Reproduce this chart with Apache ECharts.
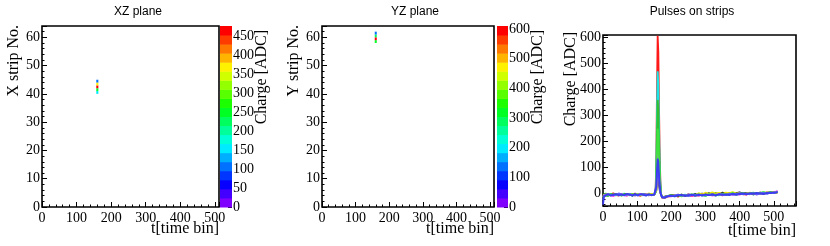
<!DOCTYPE html>
<html><head><meta charset="utf-8">
<script src="https://cdn.jsdelivr.net/npm/echarts@6/dist/echarts.min.js"></script>
<style>html,body{margin:0;padding:0;background:#fff}#c{width:830px;height:246px}</style>
</head><body><div id="c"></div><script>
// ---------- data ----------
const xzTime = [157, 157, 157, 157, 157];
const xzStrip = [40, 41, 42, 43, 44];
const xzCharge = [150, 250, 470, 360, 100];
const xzMax = 476;

const yzTime = [157, 157, 157, 157];
const yzStrip = [58, 59, 60, 61];
const yzCharge = [330, 606, 300, 135];
const yzMax = 610;

const timeBins = [0,3,8,15,22,30,38,46,54,62,70,78,86,94,102,110,118,126,134,142,
  150,154,156,158,160,162,164,166,168,170,173,176,180,186,192,
  200,210,220,230,240,250,260,270,280,290,300,310,320,330,340,350,360,370,380,390,
  400,410,420,430,440,450,460,470,480,490,500,507,511];

const pulseRed = [-8,-3,-6,-1,-5,2,-4,-7,0,-3,-6,-2,-5,1,-4,-8,-2,-5,0,-3,
  -4,14,121,394,606,545,333,152,48,1,-16,-22,-17,-12,-10,
  -9,-6,-11,-5,-8,-4,-9,-3,-7,-2,-6,-4,-1,-5,-2,-6,0,-3,1,-4,2,-1,-3,3,0,-2,4,1,5,2,6,4,9];
const pulseCyan = [-5,-9,-2,-6,0,-4,-1,-6,-3,1,-5,-2,-7,-3,0,-4,-6,-1,-4,-2,
  -3,12,94,306,470,423,259,118,38,0,-14,-19,-15,-11,-8,
  -7,-10,-4,-8,-3,-7,-5,-1,-6,-3,-8,-2,-5,0,-4,-1,-5,1,-2,-4,0,3,-1,2,-3,1,3,0,4,6,3,7,5];
const pulseGreen = [-3,-7,1,-4,-2,-6,0,-3,-5,-1,-2,-6,0,-4,-3,-1,-5,-2,-6,-1,
  -2,9,72,234,360,324,198,90,29,-2,-13,-17,-14,-10,-7,
  -5,-9,-6,-3,-9,-5,-2,-8,-4,-6,-1,-5,-3,-7,-2,0,-4,-2,2,-3,1,-1,2,-2,3,0,2,5,1,4,7,5,8];
const pulseBlack = [-6,-2,-5,-8,-3,-1,-5,-2,-6,-4,0,-3,-7,-2,-5,-3,0,-4,-2,-5,
  -3,-1,11,43,70,62,37,15,3,-5,-10,-13,-11,-9,-8,
  -6,-4,-8,-3,-7,-2,-5,-1,-4,1,-3,3,-2,2,-1,4,0,3,-1,2,5,0,3,1,-2,2,4,0,3,5,2,6,4];
const pulseYellow = [-4,-1,-6,-3,-7,-2,-5,0,-3,-6,-1,-4,-2,-5,-1,-6,-3,-4,1,-2,
  -1,0,10,45,82,95,70,35,10,-3,-11,-15,-13,-10,-8,
  -8,-5,-3,-7,-4,-8,-3,-6,2,-2,4,0,5,1,3,-1,4,2,6,0,3,-2,1,4,-1,3,0,2,5,3,6,2,5];
const pulseMagenta = [-12,-4,-7,-2,-5,-9,-3,-6,-1,-5,-8,-2,-4,-7,-3,0,-5,-2,-6,-4,
  -4,3,28,96,150,135,82,37,11,-4,-14,-20,-16,-12,-9,
  -10,-7,-4,-9,-6,-3,-8,-5,-7,-3,-6,-2,-7,-4,-1,-5,-3,0,-4,-1,-3,1,-2,0,3,-1,2,1,4,2,5,8,12];
const pulseGreen2 = [-15,-6,-3,-8,-1,-4,-6,-2,-7,-3,-5,0,-3,-6,-2,-5,-1,-6,-3,-5,
  -3,5,48,162,250,225,137,62,19,-3,-13,-18,-15,-11,-9,
  -6,-8,-5,-10,-4,-7,-3,-6,-2,-5,-8,-1,-4,-2,-6,1,-3,-1,3,-2,0,2,-1,1,4,0,3,6,2,5,3,6,8];
const pulseBlue2 = [-25,-8,-4,-1,-6,-3,-5,1,-2,-6,-3,-1,-5,-2,-7,-3,-1,-4,-2,-6,
  -2,1,18,64,100,90,55,25,7,-4,-12,-17,-14,-11,-8,
  -9,-6,-3,-7,-5,-9,-4,-6,-2,-7,-4,-5,-1,-6,-3,-2,-5,0,-3,-1,2,-2,1,-1,2,-3,1,3,-1,4,2,5,7];
const pulseBlue = [-42,-10,-5,-2,-7,-4,-1,-6,-3,-5,0,-4,-6,-2,-5,-1,-4,-7,-2,-4,
  -3,4,27,88,135,122,74,34,10,-4,-14,-19,-15,-11,-9,
  -7,-10,-6,-4,-8,-5,-3,-7,-4,-6,-2,-5,-3,-6,-1,-4,-2,-5,0,-3,-1,1,-2,2,0,3,1,-1,3,2,5,4,6];

// ---------- styles ----------
const SERIF = '"Liberation Serif","Times New Roman",serif';
const SANS = '"Liberation Sans",Arial,sans-serif';
const NBANDS = 20;
const CELL_W = 6;

function hsvColor(h) {
  const c = 1, x = 1 - Math.abs((h / 60) % 2 - 1);
  let r, g, b;
  if (h < 60) [r, g, b] = [c, x, 0];
  else if (h < 120) [r, g, b] = [x, c, 0];
  else if (h < 180) [r, g, b] = [0, c, x];
  else if (h < 240) [r, g, b] = [0, x, c];
  else [r, g, b] = [x, 0, c];
  const f = v => Math.round(v * 255);
  return 'rgb(' + f(r) + ',' + f(g) + ',' + f(b) + ')';
}
const palette = [];
for (let i = 0; i < NBANDS; i++) palette.push(hsvColor(270 * (1 - i / (NBANDS - 1))));
function colorOf(q, max) {
  let i = Math.floor(q / max * NBANDS);
  if (i < 0) i = 0; if (i > NBANDS - 1) i = NBANDS - 1;
  return palette[i];
}

const cellsXZ = xzTime.map((t, i) => [t, xzStrip[i], xzCharge[i]]);
const cellsYZ = yzTime.map((t, i) => [t, yzStrip[i], yzCharge[i]]);
function bands(max) {
  const out = [];
  for (let i = 0; i < NBANDS; i++) out.push([max * i / NBANDS, max * (i + 1) / NBANDS, i]);
  return out;
}

function cellRender(max) {
  return function (params, api) {
    const t = api.value(0), s = api.value(1), q = api.value(2);
    const p0 = api.coord([t, s + 1]);
    const p1 = api.coord([t + CELL_W, s]);
    return { type: 'rect', shape: { x: p0[0], y: p0[1], width: p1[0] - p0[0], height: p1[1] - p0[1] },
      style: { fill: colorOf(q, max) } };
  };
}
function bandRender(params, api) {
  const lo = api.value(0), hi = api.value(1), i = api.value(2);
  const p0 = api.coord([0, hi]);
  const p1 = api.coord([1, lo]);
  return { type: 'rect', shape: { x: p0[0], y: p0[1], width: p1[0] - p0[0], height: p1[1] - p0[1] + 0.5 },
    style: { fill: palette[i] } };
}

const tickStyle = { show: true, inside: true, length: 5, lineStyle: { color: '#000', width: 1 } };
const minorStyle = { show: true, splitNumber: 5, length: 2.5, lineStyle: { color: '#000', width: 1 } };
const labelStyle = { color: '#000', fontFamily: SERIF, fontSize: 14, margin: 3 };
const noLine = { show: false, onZero: false };

function timeAxis(gridIndex, max) {
  return { type: 'value', gridIndex, min: 0, max, interval: 100,
    axisLine: noLine, axisTick: tickStyle, minorTick: minorStyle, splitLine: { show: false },
    axisLabel: Object.assign({}, labelStyle, { showMaxLabel: false, margin: 4 }) };
}
function stripAxis(gridIndex) {
  return { type: 'value', gridIndex, min: 0, max: 64, interval: 10,
    axisLine: noLine, axisTick: tickStyle, minorTick: minorStyle, splitLine: { show: false },
    axisLabel: Object.assign({}, labelStyle, { showMaxLabel: false, margin: 2 }) };
}
function barAxis(gridIndex, max, interval) {
  return { type: 'value', gridIndex, position: 'right', min: 0, max, interval,
    axisLine: noLine, axisTick: { show: true, inside: true, length: 4, lineStyle: { color: '#000', width: 1 } },
    splitLine: { show: false },
    axisLabel: Object.assign({}, labelStyle, { showMaxLabel: false, margin: 1 }) };
}
function barX(gridIndex) {
  return { type: 'value', gridIndex, min: 0, max: 1, show: false, axisLine: noLine };
}

const pulses = [
  [pulseRed, '#ff1a1a'], [pulseCyan, '#1ae6e6'], [pulseGreen, '#33c033'], [pulseBlack, '#222222'],
  [pulseYellow, '#e6e600'], [pulseMagenta, '#ff40ff'], [pulseGreen2, '#40e040'],
  [pulseBlue2, '#5a5aff'], [pulseBlue, '#3c3cf0']
];

const series = [
  { type: 'custom', xAxisIndex: 0, yAxisIndex: 0, renderItem: cellRender(xzMax), data: cellsXZ, clip: true },
  { type: 'custom', xAxisIndex: 1, yAxisIndex: 1, renderItem: bandRender, data: bands(xzMax) },
  { type: 'custom', xAxisIndex: 2, yAxisIndex: 2, renderItem: cellRender(yzMax), data: cellsYZ, clip: true },
  { type: 'custom', xAxisIndex: 3, yAxisIndex: 3, renderItem: bandRender, data: bands(yzMax) }
];
pulses.forEach(([vals, color]) => {
  series.push({ type: 'line', xAxisIndex: 4, yAxisIndex: 4, showSymbol: false, symbol: 'none',
    data: timeBins.map((t, i) => [t, vals[i]]), lineStyle: { color, width: 1.8 }, itemStyle: { color },
    emphasis: { disabled: true }, clip: true });
});

function txt(text, x, y) {
  return { type: 'text', x, y, silent: true,
    style: { text, fill: '#000', font: '16px ' + SERIF, align: 'right', verticalAlign: 'middle' } };
}
function vtxt(text, x, y) {
  return { type: 'text', x, y, rotation: Math.PI / 2, silent: true,
    style: { text, fill: '#000', font: '16px ' + SERIF, align: 'right', verticalAlign: 'middle' } };
}
function title(text, x) {
  return { type: 'text', x, y: 12, silent: true,
    style: { text, fill: '#000', font: '12px ' + SANS, align: 'center', verticalAlign: 'middle' } };
}

const option = {
  animation: false,
  backgroundColor: '#fff',
  grid: [
    { left: 42, top: 26, width: 177, height: 181, show: true, borderColor: '#000', borderWidth: 1.6 },
    { left: 220, top: 26, width: 12, height: 181 },
    { left: 322, top: 26, width: 172, height: 181, show: true, borderColor: '#000', borderWidth: 1.6 },
    { left: 497, top: 26, width: 11, height: 181 },
    { left: 603, top: 35, width: 193, height: 171, show: true, borderColor: '#000', borderWidth: 1.6 }
  ],
  xAxis: [timeAxis(0, 512), barX(1), timeAxis(2, 512), barX(3), timeAxis(4, 565)],
  yAxis: [stripAxis(0), barAxis(1, xzMax, 50), stripAxis(2), barAxis(3, yzMax, 100),
    { type: 'value', gridIndex: 4, min: -47, max: 609, splitNumber: 6,
      axisLine: noLine, axisTick: tickStyle, minorTick: minorStyle, splitLine: { show: false },
      axisLabel: Object.assign({}, labelStyle, { showMaxLabel: false, showMinLabel: false, margin: 2 }) }
  ],
  series,
  graphic: [
    title('XZ plane', 138), title('YZ plane', 415), title('Pulses on strips', 692),
    txt('t[time bin]', 219, 229),
    txt('t[time bin]', 494, 229),
    txt('t[time bin]', 796, 231),
    vtxt('X strip No.', 14, 25),
    vtxt('Y strip No.', 294, 25),
    vtxt('Charge [ADC]', 262, 30),
    vtxt('Charge [ADC]', 538, 30),
    vtxt('Charge [ADC]', 571, 32)
  ]
};
const chart = echarts.init(document.getElementById('c'), null, { renderer: 'canvas' });
chart.setOption(option);
</script></body></html>
